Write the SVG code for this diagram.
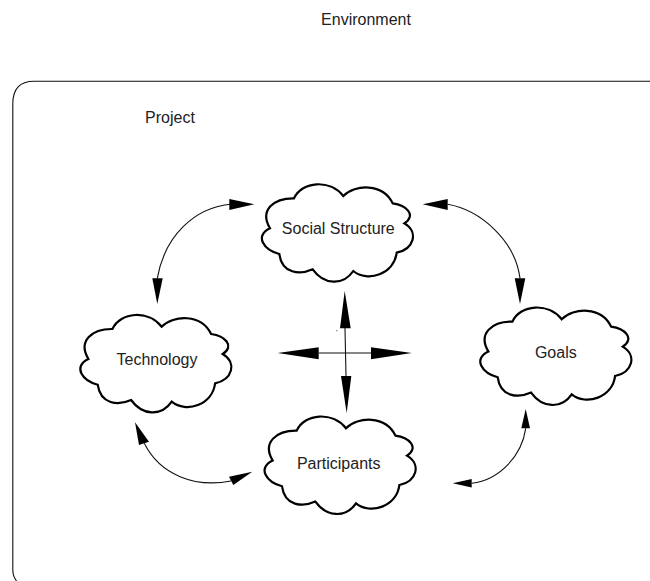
<svg xmlns="http://www.w3.org/2000/svg" width="650" height="581" viewBox="0 0 650 581">
<style>
text{font-family:"Liberation Sans",Arial,sans-serif;font-size:16px;fill:#222;text-anchor:middle}
.cloud{fill:#fff;stroke:#000;stroke-width:2.2;stroke-linejoin:miter}
.line{fill:none;stroke:#111;stroke-width:1.1}
.head{fill:#000;stroke:none}
</style>
<defs>
<path id="cloud" class="cloud" d="M103.3 26C115 14 143 13 152.7 33.3C166 35 177 45 164.3 53.3C179 62 174 79 156.7 82.7C154 104 128 113 113.3 101C103 116 84 115 72.7 99.3C60 105 42 104 39.3 84C24 80 14 66 30 58.3C19 40 34 28 54 28.3C62 11 90 9 103.3 26Z"/>
</defs>
<rect width="650" height="581" fill="#fff"/>
<text x="366" y="25">Environment</text>
<path class="line" d="M650 81.2H34Q12.8 81.2 12.8 104V570Q12.8 576 16.5 581"/>
<text x="170" y="123">Project</text>
<g id="connectors">
<path class="line" d="M230 204.3C195 208 165 235 157.3 278.3"/>
<polygon class="head" points="254.3,204.3 229.3,199 229.3,210"/>
<polygon class="head" points="157.3,304 152.3,278.3 162.7,278.3"/>
<path class="line" d="M447.7 204.3C480 210 515 240 520 278.3"/>
<polygon class="head" points="422.7,204.3 447.7,199 447.7,210"/>
<polygon class="head" points="520,304 514.7,278.3 525.3,278.3"/>
<path class="line" d="M144.3 443.3C160 475 195 488 231 481"/>
<polygon class="head" points="135,422.3 139,445 149,441.7"/>
<polygon class="head" points="252.3,471.7 229,476.7 233.3,485"/>
<path class="line" d="M471.7 483.3C500 480 522 455 525.7 428.3"/>
<polygon class="head" points="452.7,483.3 471.7,479 471.7,487.6"/>
<polygon class="head" points="525.7,409 521.3,428.3 530,428.3"/>
<path class="line" d="M345 328L346 376M318.7 353H371"/>
<polygon class="head" points="344.7,291 340,328.3 350.7,328.3"/>
<polygon class="head" points="346.7,413.3 341,376 351.3,376"/>
<polygon class="head" points="277.7,353 318.7,347.3 318.7,359.3"/>
<polygon class="head" points="411.7,353 371,347.3 371,359.3"/>
<circle cx="336.8" cy="330.7" r="0.6" fill="#555"/>
</g>
<g id="social-structure"><use href="#cloud" x="240" y="170"/><text x="338.3" y="234">Social Structure</text></g>
<g id="technology"><use href="#cloud" x="58.4" y="300.7"/><text x="157" y="365">Technology</text></g>
<g id="participants"><use href="#cloud" x="242.7" y="402.3"/><text x="338.7" y="469">Participants</text></g>
<g id="goals"><use href="#cloud" x="458.4" y="293.3"/><text x="555.8" y="357.7">Goals</text></g>
</svg>
